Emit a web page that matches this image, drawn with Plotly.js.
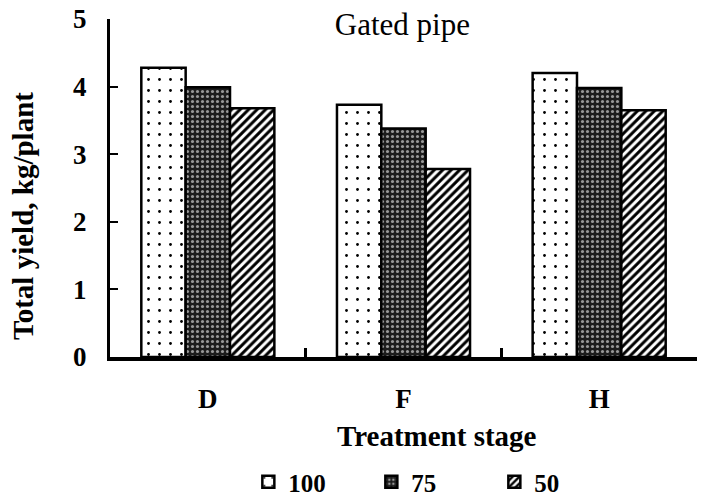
<!DOCTYPE html>
<html><head><meta charset="utf-8">
<script src="https://cdn.plot.ly/plotly-3.0.1.min.js"></script>
<style>body{margin:0;padding:0;background:#fff}#chart{width:701px;height:500px}</style>
</head><body><div id="chart"></div>
<script>
const categories = ["D", "F", "H"];
const seriesNames = ["100", "75", "50"];
const values100 = [4.28, 3.73, 4.20];
const values75 = [3.99, 3.38, 3.98];
const values50 = [3.68, 2.78, 3.65];
const yTicks = [0, 1, 2, 3, 4, 5];
const xTitle = "Treatment stage";
const yTitle = "Total yield, kg/plant";
const chartTitle = "Gated pipe";

const font = "Liberation Serif, Times New Roman, serif";
const patterns = [
  {shape: ".", fgcolor: "#000", bgcolor: "#fff", size: 11, solidity: 0.05},
  {shape: ".", fgcolor: "#999", bgcolor: "#1c1c1c", size: 5, solidity: 0.3},
  {shape: "/", fgcolor: "#000", bgcolor: "#fff", size: 6, solidity: 0.5}
];
const vals = [values100, values75, values50];
const traces = vals.map((v, i) => ({
  type: "bar", x: categories, y: v, name: seriesNames[i],
  marker: {color: patterns[i].bgcolor, pattern: patterns[i], line: {color: "#000", width: 2.5}}
}));
const layout = {
  width: 701, height: 500,
  margin: {l: 110, r: 4, t: 19, b: 143},
  paper_bgcolor: "#fff", plot_bgcolor: "#fff",
  barmode: "group", bargap: 0.32, bargroupgap: 0,
  font: {family: font, color: "#000"},
  title: {text: chartTitle, font: {family: font, size: 31, color: "#000"},
    xref: "paper", x: 0.498, xanchor: "center", yref: "container", y: 0.952, yanchor: "middle"},
  xaxis: {
    showline: true, linecolor: "#000", linewidth: 3.5, ticks: "inside", ticklen: 9, tickwidth: 3, tickcolor: "#000",
    tickson: "boundaries", ticklabelstandoff: 15,
    tickfont: {family: font, size: 27, color: "#000", weight: "bold"},
    showgrid: false, zeroline: false, automargin: false
  },
  yaxis: {
    range: [0, 5], tickvals: yTicks, showline: true, linecolor: "#000", linewidth: 3,
    ticks: "inside", ticklen: 8, tickwidth: 2, tickcolor: "#000", ticklabelstandoff: 15,
    tickfont: {family: font, size: 27, color: "#000", weight: "bold"},
    showgrid: false, zeroline: false, automargin: false
  },
  annotations: [
    {text: "<b>" + xTitle + "</b>", xref: "paper", yref: "paper", x: (437 - 110) / 587, y: -(436 - 357) / 338,
      xanchor: "center", yanchor: "middle", showarrow: false, font: {family: font, size: 29, color: "#000"}},
    {text: "<b>" + yTitle + "</b>", xref: "paper", yref: "paper", x: (23 - 110) / 587, y: (357 - 216) / 338,
      xanchor: "center", yanchor: "middle", textangle: -90, showarrow: false, font: {family: font, size: 29, color: "#000"}}
  ],
  legend: {orientation: "h", x: 0.55, xanchor: "center", yref: "container", y: 0.036, yanchor: "middle",
    font: {family: font, size: 25, color: "#000", weight: "bold"}, itemwidth: 30, traceorder: "normal",
    entrywidth: 78},
  showlegend: true
};
Plotly.newPlot("chart", traces, layout, {displayModeBar: false, staticPlot: true});
</script></body></html>
